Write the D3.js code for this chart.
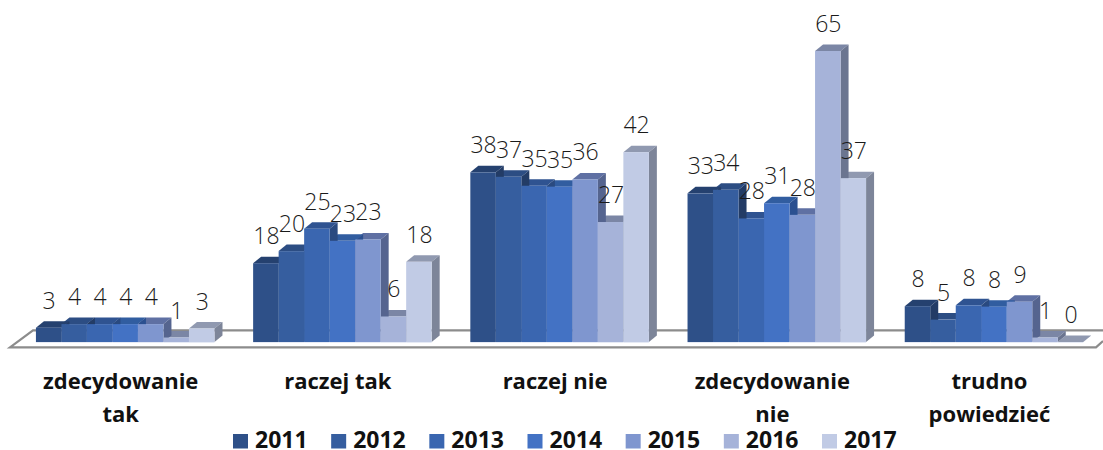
<!DOCTYPE html>
<html><head><meta charset="utf-8">
<script src="https://cdn.jsdelivr.net/npm/d3@7"></script>
<style>html,body{margin:0;padding:0;background:#fff}svg{display:block}</style>
</head><body><svg id="c" width="1103" height="450"></svg>
<script>
const categories = [["zdecydowanie","tak"],["raczej tak"],["raczej nie"],["zdecydowanie","nie"],["trudno","powiedzieć"]];
const years = ["2011","2012","2013","2014","2015","2016","2017"];
const s2011 = [3.2,17.6,37.9,33.2,8];
const s2012 = [4,20.3,36.9,34,5];
const s2013 = [4,25.3,34.9,27.6,8.2];
const s2014 = [4,22.6,34.7,31,7.9];
const s2015 = [4,22.9,36.3,28.4,9];
const s2016 = [1,5.7,26.8,65,1];
const s2017 = [3,17.9,42.4,36.6,0];
const seriesValues = [s2011,s2012,s2013,s2014,s2015,s2016,s2017];
const frontColors = ["#2e5088","#365e9f","#3a66b0","#4372c4","#7f96cf","#a6b3d9","#c1cbe5"];
const topColors   = ["#25416f","#2c4d83","#2f5391","#315da0","#5f70a3","#7b86a5","#9099b0"];
const sideColors  = ["#233c66","#233c66","#2a4a80","#2b5090","#55648f","#6b7590","#7d8599"];

const svg = d3.select("#c");
const catIdx = d3.range(categories.length);
const x0 = d3.scaleBand().domain(catIdx).range([16.6,1102.6]).paddingInner(.178).paddingOuter(.089);
const x1 = d3.scaleBand().domain(d3.range(years.length)).range([0,x0.bandwidth()]);
const y = d3.scaleLinear().domain([0,65]).range([342,51]);
const dx = 8, dy = 6.5;

// floor
const floor = svg.append("g").attr("fill","none").attr("stroke","#8c8c8c").attr("stroke-width",2.2);
floor.append("path").attr("d",d3.line()([[1103,330.3],[33,330.3],[10,347.3],[1096,347.3],[1103,341]]));

const bars = [];
catIdx.forEach(c=>years.forEach((yr,s)=>bars.push({c,s,v:seriesValues[s][c],x:x0(c)+x1(s),w:x1.bandwidth()})));
const g = svg.append("g");
const backToFront = bars.slice().sort((a,b)=>(a.c-b.c)||(b.s-a.s));
const line = d3.line();
g.selectAll("path.top").data(backToFront).join("path").attr("class","top")
  .attr("fill",d=>topColors[d.s])
  .attr("d",d=>{const t=y(d.v);return line([[d.x,t],[d.x+d.w,t],[d.x+d.w+dx,t-dy],[d.x+dx,t-dy]])+"Z";});
g.selectAll("path.side").data(backToFront).join("path").attr("class","side")
  .attr("fill",d=>sideColors[d.s])
  .attr("d",d=>{const t=y(d.v),b=y(0);return line([[d.x+d.w,t],[d.x+d.w+dx,t-dy],[d.x+d.w+dx,b-dy],[d.x+d.w,b]])+"Z";});
g.selectAll("rect.front").data(bars).join("rect").attr("class","front")
  .attr("x",d=>d.x).attr("y",d=>y(d.v)).attr("width",d=>d.w).attr("height",d=>y(0)-y(d.v))
  .attr("fill",d=>frontColors[d.s]);
svg.append("g").selectAll("line").data(bars).join("line")
  .attr("x1",d=>d.x).attr("x2",d=>d.x+d.w).attr("y1",y(0)+.5).attr("y2",y(0)+.5)
  .attr("stroke","#e6eaf5").attr("stroke-width",1);

// labels
const fmt = d3.format(".0f");
svg.append("g").selectAll("text").data(bars).join("text")
  .attr("x",d=>d.x+d.w/2+.5).attr("y",d=>y(d.v)-19)
  .attr("text-anchor","middle")
  .attr("font-family","'Open Sans'").attr("font-weight",300).attr("font-size",23).attr("fill","#1a1a1a")
  .text(d=>fmt(d.v));

// category labels
const cat = svg.append("g").attr("font-family","'Open Sans'").attr("font-weight",700).attr("font-size",22).attr("fill","#111").attr("text-anchor","middle");
categories.forEach((lines,i)=>{
  lines.forEach((t,j)=>cat.append("text").attr("x",x0(i)+x0.bandwidth()/2-4.5).attr("y",389+j*33).text(t));
});

// legend
const lx = d3.scalePoint().domain(years).range([233,822]);
const lg = svg.append("g").selectAll("g").data(years).join("g").attr("transform",d=>`translate(${lx(d)},0)`);
lg.append("rect").attr("y",434).attr("width",15).attr("height",14.5).attr("fill",(d,i)=>frontColors[i]);
lg.append("text").attr("x",22).attr("y",448).attr("font-family","'Open Sans'").attr("font-weight",700).attr("font-size",23).attr("fill","#111").text(d=>d);
</script></body></html>
